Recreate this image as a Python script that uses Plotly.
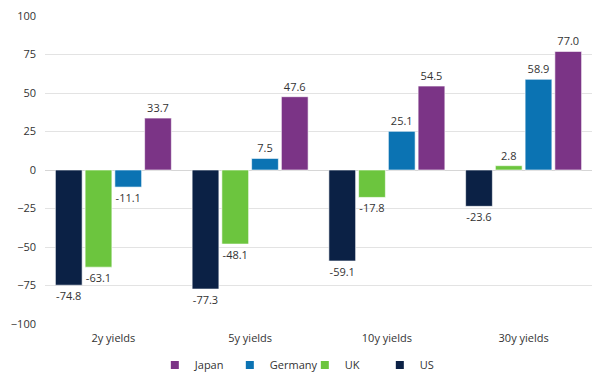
import plotly.graph_objects as go

categories = ["2y yields", "5y yields", "10y yields", "30y yields"]
us = [-74.8, -77.3, -59.1, -23.6]
uk = [-63.1, -48.1, -17.8, 2.8]
germany = [-11.1, 7.5, 25.1, 58.9]
japan = [33.7, 47.6, 54.5, 77.0]
tick_vals = [-100, -75, -50, -25, 0, 25, 50, 75, 100]

series = [
    ("US", us, "#0b2145"),
    ("UK", uk, "#6cc53e"),
    ("Germany", germany, "#0b73b3"),
    ("Japan", japan, "#7b3486"),
]

fig = go.Figure()
for name, vals, color in series:
    fig.add_trace(go.Bar(
        name=name, x=categories, y=vals, legendgroup=name, showlegend=False,
        marker=dict(color=color, line=dict(color="rgba(255,255,255,0.6)", width=1)),
        texttemplate="%{y:.1f}", textposition="outside",
        textfont=dict(size=11, color="#333333"),
        cliponaxis=False,
    ))
# legend entries (small square swatches)
for name, vals, color in series:
    fig.add_trace(go.Scatter(
        name=name, x=[None], y=[None], mode="markers", legendgroup=name,
        marker=dict(symbol="square", size=8, color=color),
    ))

# the page body has an 8px default margin, so the margins are offset by it
fig.update_layout(
    width=603, height=373,
    margin=dict(l=37, r=19, t=8, b=57, autoexpand=False),
    paper_bgcolor="white", plot_bgcolor="white",
    font=dict(family="Open Sans", size=11, color="#333333"),
    barmode="group", bargap=0.13, bargroupgap=0.1,
    yaxis=dict(range=[-100, 100], tickvals=tick_vals, gridcolor="#e3e3e3",
               zeroline=True, zerolinecolor="#d6d6d6", zerolinewidth=1,
               ticks="", ticklabelstandoff=8, automargin=False,
               ticklabeloverflow="allow"),
    xaxis=dict(showgrid=False, ticks="", ticklabelstandoff=6, automargin=False),
    legend=dict(orientation="h", traceorder="reversed", x=0.475, xanchor="center",
                y=-0.133, yanchor="middle", font=dict(size=11), itemwidth=30,
                entrywidth=30, entrywidthmode="pixels", tracegroupgap=0),
)

fig.write_html("out.html")
